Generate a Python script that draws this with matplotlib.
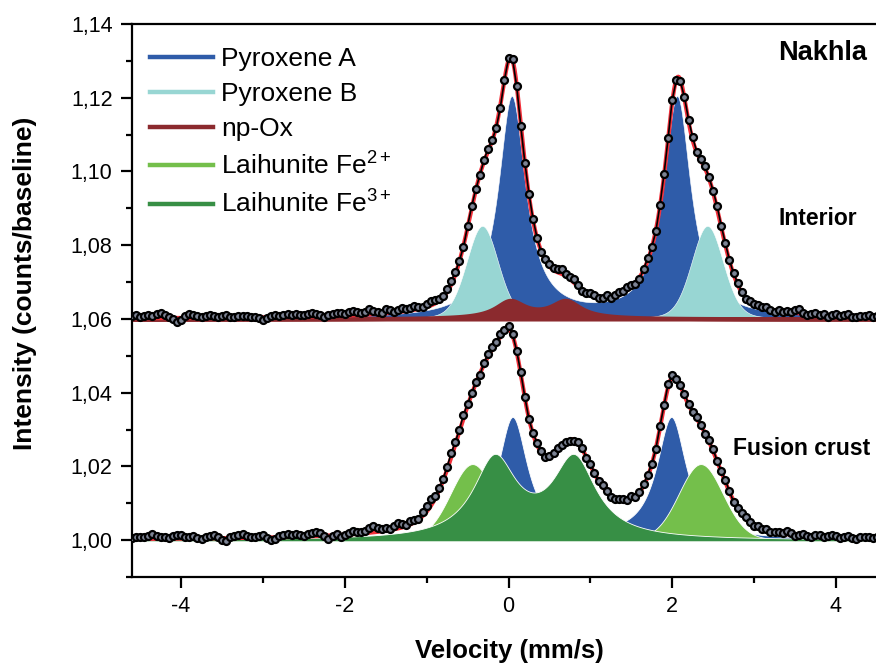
import numpy as np
import matplotlib
matplotlib.use("Agg")
import matplotlib.pyplot as plt
from matplotlib.lines import Line2D
from matplotlib.ticker import MultipleLocator, FuncFormatter

plt.rcParams['font.family'] = ['Liberation Sans', 'DejaVu Sans']
plt.rcParams['mathtext.fontset'] = 'custom'
plt.rcParams['mathtext.rm'] = 'Liberation Sans'
plt.rcParams['mathtext.it'] = 'Liberation Sans:italic'
plt.rcParams['mathtext.bf'] = 'Liberation Sans:bold'
plt.rcParams['axes.unicode_minus'] = False

# velocity channels (mm/s)
v_min, v_max, n_chan = -4.6, 4.5, 183

# doublet components: centres (mm/s), amplitude, half width, lorentz fraction
interior_base = 1.06
int_pyxA = dict(centers=[0.04, 2.06], amp=0.0599, hw=0.20, eta=1.0)
int_pyxB = dict(centers=[-0.32, 2.43], amp=0.0252, hw=0.23, eta=0.2)
int_npox = dict(centers=[0.02, 0.70], amp=0.0046, hw=0.22, eta=1.0)

crust_base = 1.00
cr_pyxA = dict(centers=[0.05, 1.99], amp=0.0330, hw=0.22, eta=1.0)
cr_lh2 = dict(centers=[-0.44, 2.35], amp=0.0206, hw=0.32, eta=0.1)
cr_lh3 = dict(centers=[-0.17, 0.80], amp=0.0213, hw=0.32, eta=1.0)

# measured points minus fit, in units of 1e-4
interior_resid = [
    6, 8, 4, 5, 9, 7, 10, 14, 8, 4, -2, -12, -6, 5, 11, 8, 6, 3, 5, 7,
    4, 2, 5, 6, 3, 1, 4, 5, 3, 2, 0, -2, -7, -1, 3, 5, 4, 6, 8, 5,
    9, 6, 4, 7, 10, 6, 3, -3, 2, 5, 8, 7, 5, 9, 11, 8, 4, 6, 14, 10,
    5, 3, 12, 8, 2, 6, 9, 5, 7, 10, 6, 4, 8, 12, 9, 5, 3, 7, 11, 6,
    2, -3, 4, 6, 3, -2, 5, 8, 2, -4, -6, 0, 5, 3, -3, -5, 2, 6, 4, 1,
    -2, 3, 7, 5, 8, 12, 6, 4, 9, 5, -4, -2, 3, 1, -5, -2, 4, -3, 2, 6,
    3, 8, 4, -2, -5, 3, 6, 2, -3, 4, 5, 2, 7, -2, -4, 3, 6, 8, 2, 4,
    6, 3, 5, 8, 4, 6, 2, 3, 5, 2, -2, 3, 1, 4, 2, 5, 0, -4, 2, -1,
    3, 1, 8, 11, 2, -3, 1, 4, -2, 2, -5, 0, 3, -1, 1, 4, -3, -1, 2, 0,
    3, -2, 1]
crust_resid = [
    2, 5, 6, 4, 9, 12, 8, 6, 5, 3, 7, 11, 9, 5, 4, 6, 2, -1, 4, 7,
    8, 3, -6, -9, 2, 6, 9, 10, 5, 3, 1, 4, 6, 0, -8, -4, 3, 6, 8, 5,
    7, 4, 2, 6, 9, 11, 7, 0, -9, -3, 2, -6, -1, 4, 8, 6, 3, 7, 12, 16,
    10, 5, 8, 4, 10, 14, 8, 3, 9, 6, 3, 12, 15, 18, 9, 6, 4, 8, 11, 7,
    4, 9, 6, 2, 5, -3, 4, 8, 6, 3, 7, 5, 10, 4, 2, 6, 3, -2, 4, 5,
    2, -3, 1, 6, 8, 4, 0, -5, -3, 2, 4, -2, 5, 3, -1, 4, 2, -4, -2, 3,
    5, 2, 7, -3, 1, 4, 6, 2, -2, 5, 3, 8, 4, -3, 2, 6, 3, 1, 5, 2,
    -2, 3, 5, 1, 4, 6, 2, -3, 1, 4, 7, 3, 0, 5, 2, 6, -1, 3, 4, 2,
    9, 3, -2, 1, 4, 0, -4, 3, 2, -3, 1, 5, 2, -2, 0, 3, -1, -4, 2, 1,
    3, 0, 2]

legend_labels = ["Pyroxene A", "Pyroxene B", "np-Ox",
                 "Laihunite Fe$^{2+}$", "Laihunite Fe$^{3+}$"]

c_pyxA = '#2f5ca9'
c_pyxB = '#98d6d3'
c_npox = '#8b2a2e'
c_lh2 = '#74bf4b'
c_lh3 = '#378f45'
c_fit = '#f2303a'


def doublet(x, p):
    y = np.zeros_like(x)
    for c in p['centers']:
        d = (x - c) / p['hw']
        lor = 1.0 / (1.0 + d ** 2)
        gau = np.exp(-np.log(2) * d ** 2)
        y += p['amp'] * (p['eta'] * lor + (1 - p['eta']) * gau)
    return y


vel = np.linspace(v_min, v_max, n_chan)
xf = np.linspace(v_min, v_max, 1500)

fig = plt.figure(figsize=(8.76, 6.63), dpi=100)
ax = fig.add_axes([0.1507, 0.1297, 0.8493, 0.8341])

# interior spectrum
int_parts = [(int_pyxA, c_pyxA, 0.4), (int_pyxB, c_pyxB, 0.4), (int_npox, c_npox, 3.0)]
for p, col, lw in int_parts:
    ax.fill_between(xf, interior_base, interior_base + doublet(xf, p),
                    color=col, lw=lw, edgecolor=col if lw > 1 else 'white', zorder=2)
int_fit = sum(doublet(xf, p) for p, _, _ in int_parts)
int_fit_ch = sum(doublet(vel, p) for p, _, _ in int_parts)
ax.plot(xf, interior_base + int_fit, color=c_fit, lw=3.0, zorder=3)
ax.plot(vel, interior_base + int_fit_ch + np.array(interior_resid) * 1e-4,
        color='black', lw=1.2, marker='o', ms=5.0, mfc='#7c8394', mec='black',
        mew=1.6, zorder=4)

# fusion crust spectrum
cr_parts = [(cr_pyxA, c_pyxA), (cr_lh2, c_lh2), (cr_lh3, c_lh3)]
for p, col in cr_parts:
    ax.fill_between(xf, crust_base - 0.0003, crust_base + doublet(xf, p),
                    color=col, lw=0.6, edgecolor='white', zorder=2)
cr_fit = sum(doublet(xf, p) for p, _ in cr_parts)
cr_fit_ch = sum(doublet(vel, p) for p, _ in cr_parts)
ax.plot(xf, crust_base + cr_fit, color=c_fit, lw=3.0, zorder=3)
ax.plot(vel, crust_base + cr_fit_ch + np.array(crust_resid) * 1e-4,
        color='black', lw=1.2, marker='o', ms=5.0, mfc='#7c8394', mec='black',
        mew=1.6, zorder=4)

ax.set_xlim(-4.6, 4.49)
ax.set_ylim(0.99, 1.14)
ax.spines['right'].set_visible(False)
for s in ['left', 'top', 'bottom']:
    ax.spines[s].set_linewidth(1.6)

ax.xaxis.set_major_locator(MultipleLocator(2))
ax.xaxis.set_minor_locator(MultipleLocator(1))
ax.yaxis.set_major_locator(MultipleLocator(0.02))
ax.yaxis.set_minor_locator(MultipleLocator(0.01))
ax.yaxis.set_major_formatter(FuncFormatter(lambda v, _: f"{v:.2f}".replace('.', ',')))
ax.xaxis.set_major_formatter(FuncFormatter(lambda v, _: f"{v:.0f}"))
ax.tick_params(which='major', length=8, width=1.6, labelsize=15.5, pad=6)
ax.tick_params(which='minor', length=4, width=1.6)
ax.tick_params(top=False, right=False, which='both')

ax.set_xlabel('Velocity (mm/s)', fontsize=18.5, fontweight='bold')
ax.set_ylabel('Intensity (counts/baseline)', fontsize=19, fontweight='bold')
ax.xaxis.set_label_coords(0.507, -0.112)
ax.yaxis.set_label_coords(-0.128, 0.531)

handles = [Line2D([], [], color=c, lw=3.2) for c in [c_pyxA, c_pyxB, c_npox, c_lh2, c_lh3]]
ax.legend(handles, legend_labels, loc='upper left', bbox_to_anchor=(0.024, 0.958),
          frameon=False, fontsize=19, handlelength=2.4, handletextpad=0.3,
          labelspacing=0.42, borderpad=0, borderaxespad=0)

ax.text(0.988, 0.9476, 'Nakhla', transform=ax.transAxes, ha='right', va='center',
        fontsize=19.5, fontweight='bold')
ax.text(0.9745, 0.649, 'Interior', transform=ax.transAxes, ha='right', va='center',
        fontsize=16.5, fontweight='bold')
ax.text(0.992, 0.2315, 'Fusion crust', transform=ax.transAxes, ha='right', va='center',
        fontsize=16.5, fontweight='bold')

fig.savefig('out.png', dpi=100)
